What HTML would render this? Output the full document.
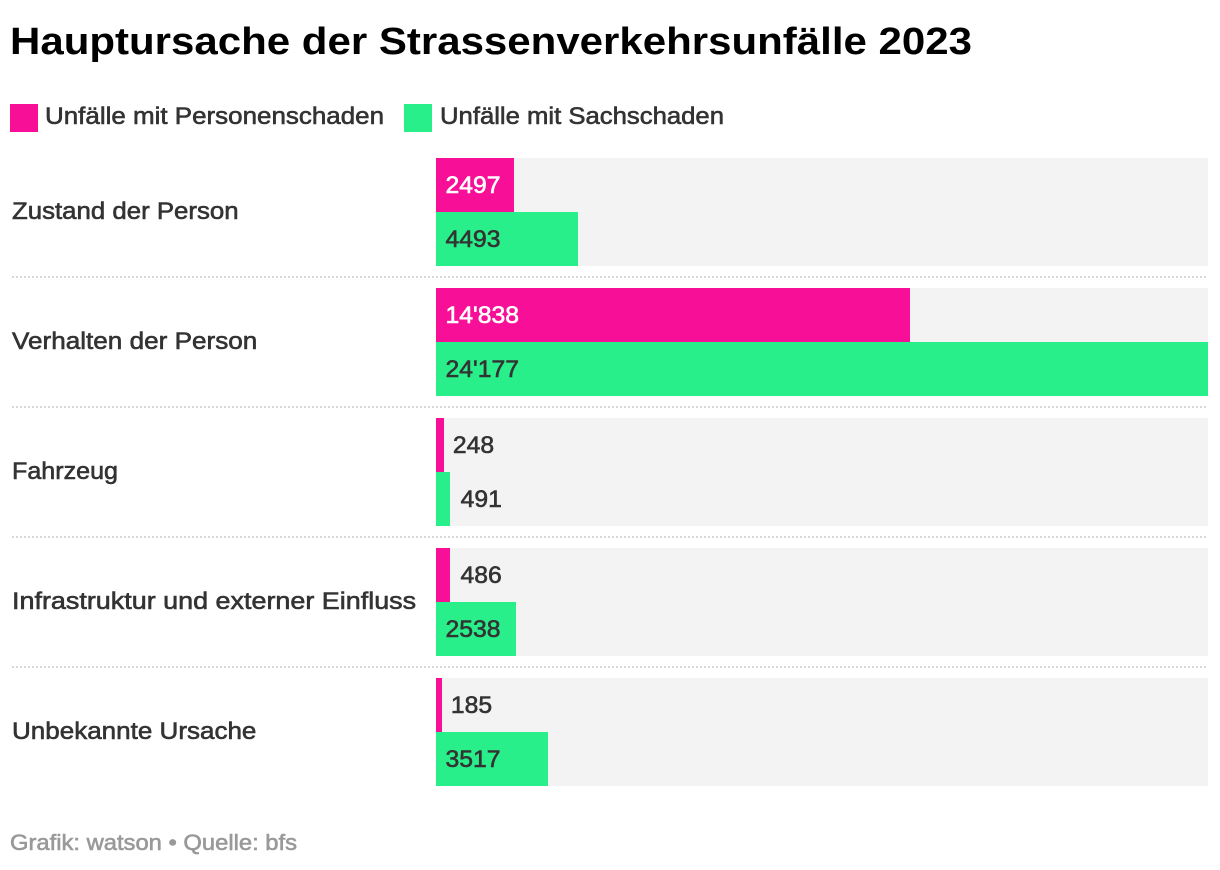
<!DOCTYPE html>
<html lang="de">
<head>
<meta charset="utf-8">
<title>Hauptursache der Strassenverkehrsunfälle 2023</title>
<style>
html,body{margin:0;padding:0;background:#fff;width:1220px;height:870px;overflow:hidden}
svg{display:block}
text{font-family:"Liberation Sans",sans-serif}
.semi{font-size:24px;stroke-width:.6px;paint-order:stroke}
</style>
</head>
<body>
<svg id="chart" width="1220" height="870" viewBox="0 0 1220 870" xmlns="http://www.w3.org/2000/svg">
  <text x="10" y="54" font-size="38" font-weight="700" fill="#000" textLength="962" lengthAdjust="spacingAndGlyphs">Hauptursache der Strassenverkehrsunfälle 2023</text>
  <rect x="10" y="104" width="28" height="28" fill="#f80f97"/>
  <text class="semi" x="45" y="124" fill="#333" stroke="#333" textLength="339" lengthAdjust="spacingAndGlyphs">Unfälle mit Personenschaden</text>
  <rect x="404" y="104" width="28" height="28" fill="#29ef8a"/>
  <text class="semi" x="440" y="124" fill="#333" stroke="#333" textLength="284" lengthAdjust="spacingAndGlyphs">Unfälle mit Sachschaden</text>
  <g id="rows"></g>
  <text class="semi" x="10" y="850" style="font-size:22px" fill="#999" stroke="#999" textLength="287" lengthAdjust="spacingAndGlyphs">Grafik: watson • Quelle: bfs</text>
</svg>
<script>
const categories = ["Zustand der Person", "Verhalten der Person", "Fahrzeug", "Infrastruktur und externer Einfluss", "Unbekannte Ursache"];
const personenschaden = [2497, 14838, 248, 486, 185];
const sachschaden = [4493, 24177, 491, 2538, 3517];
const domainMax = 24177;

const NS = "http://www.w3.org/2000/svg";
const rowsGroup = document.getElementById("rows");
const plotLeft = 436;
const plotWidth = 772;
const firstRowTop = 158;
const rowStep = 130;
const barHeight = 54;
const valueStretch = 1.03;
const categoryFit = {
  "Zustand der Person": 1.075,
  "Verhalten der Person": 1.088,
  "Fahrzeug": 1.045,
  "Infrastruktur und externer Einfluss": 1.122,
  "Unbekannte Ursache": 1.084
};
const colorPink = "#f80f97";
const colorGreen = "#29ef8a";

/* Exact linear scale */
function xScale(v) {
  return v / domainMax * plotWidth;
}
/* Snap the bar's edges to whole CSS pixels (2 device px), bar origin at a .63 fractional offset */
function snappedWidth(v) {
  return 2 * (Math.round(0.63 + xScale(v) / 2) - 1);
}
function rowTop(i) {
  return firstRowTop + i * rowStep;
}
function formatValue(v) {
  return String(v).length > 4 ? String(v).replace(/\B(?=(\d{3})+$)/g, "'") : String(v);
}
function make(tag, attrs) {
  const el = document.createElementNS(NS, tag);
  for (const k in attrs) el.setAttribute(k, attrs[k]);
  rowsGroup.appendChild(el);
  return el;
}
function drawBar(v, y, fill, insideColor, series, cat) {
  const w = snappedWidth(v);
  const bar = make("rect", {x: plotLeft, y: y, width: w, height: barHeight, fill: fill});
  
  
  const str = formatValue(v);
  const inside = w > 60;
  const color = inside ? insideColor : "#333";
  const tx = inside ? plotLeft + 9.5 : plotLeft + xScale(v) + 9;
  const label = make("text", {x: tx, y: y + 35, fill: color, stroke: color, "class": "semi"});
  label.textContent = str;
  
  
  label.setAttribute("textLength", (label.getComputedTextLength() * valueStretch).toFixed(1));
  label.setAttribute("lengthAdjust", "spacingAndGlyphs");
}

categories.forEach(function (name, i) {
  const top = rowTop(i);
  const slug = name.toLowerCase().split(" ").join("-");

  const track = make("rect", {x: plotLeft, y: top, width: plotWidth, height: barHeight * 2, fill: "#f3f3f3"});
  
  

  drawBar(personenschaden[i], top, colorPink, "#fff", "personenschaden", slug);
  drawBar(sachschaden[i], top + barHeight, colorGreen, "#333", "sachschaden", slug);

  const cat = make("text", {x: 12, y: top + 61, fill: "#333", stroke: "#333", "class": "semi"});
  cat.textContent = name;
  
  
  cat.setAttribute("textLength", (cat.getComputedTextLength() * (categoryFit[name] || 1.08)).toFixed(1));
  cat.setAttribute("lengthAdjust", "spacingAndGlyphs");

  if (i < categories.length - 1) {
    const sep = make("line", {x1: 12, x2: 1208, y1: top + 119, y2: top + 119, stroke: "#d8d8d8", "stroke-width": 2, "stroke-dasharray": "2 2"});
    
    
  }
});
</script>
</body>
</html>
